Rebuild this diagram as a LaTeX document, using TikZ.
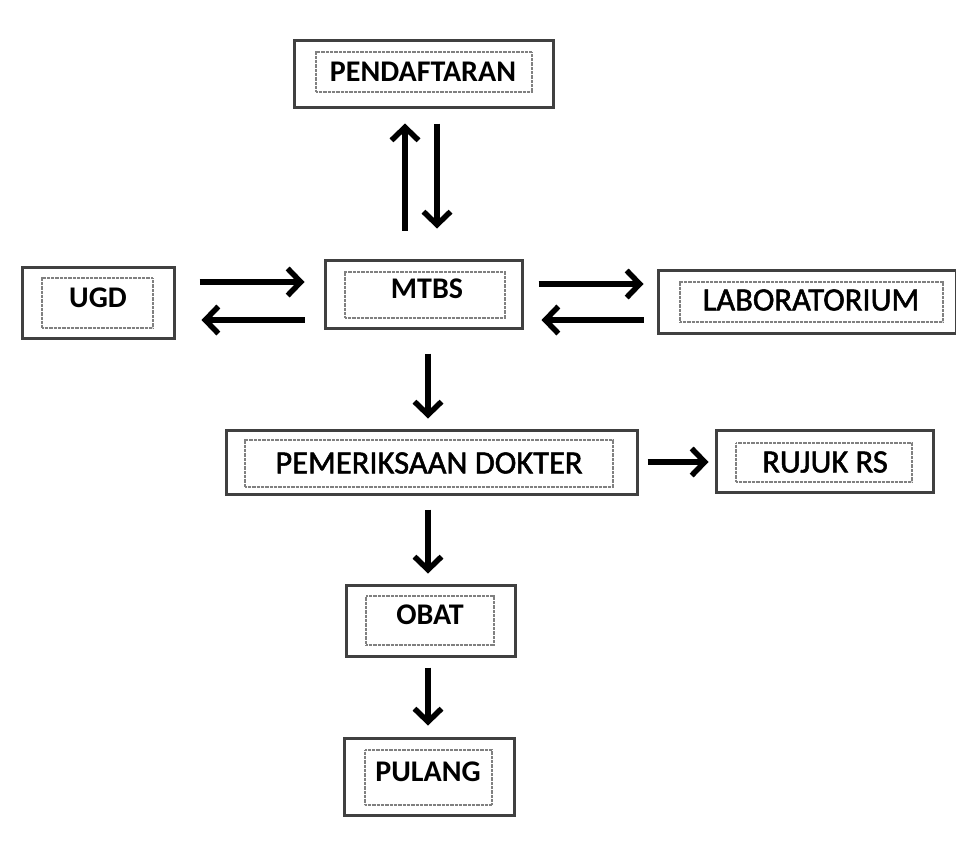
\documentclass[tikz,border=0pt]{standalone}
\usepackage{fontspec}
\setmainfont{Carlito}
\newfontfamily\medfont[FakeBold=1.6]{Carlito}
\usetikzlibrary{arrows.meta,calc}
\begin{document}
\begin{tikzpicture}[x=1pt,y=-1pt,
  outerbox/.style={draw=black!75, line width=3pt, inner sep=0pt, fill=white},
  innerbox/.style={draw=black!50, dash pattern=on 0.8pt off 0.5pt, line width=2.4pt, inner sep=0pt},
  lbl/.style={inner sep=0pt, font=\fontsize{32.5}{38}\selectfont\medfont},
  lblb/.style={inner sep=0pt, font=\fontsize{30}{36}\selectfont\bfseries},
  arr/.style={line width=5.5pt, -{Straight Barb[length=13pt,width=27pt]}}
]
\useasboundingbox[fill=white] (0,0) rectangle (956,862);

% outer boxes
\node[outerbox, minimum width=259pt, minimum height=67pt] (pend) at (423.5,73.5) {};
\node[outerbox, minimum width=197pt, minimum height=68pt] (mtbs) at (423.5,294) {};
\node[outerbox, minimum width=152pt, minimum height=71pt] (ugd) at (98,302.5) {};
\node[outerbox, minimum width=298pt, minimum height=63pt] (lab) at (807,301.5) {};
\node[outerbox, minimum width=411pt, minimum height=64pt] (pem) at (431.5,462) {};
\node[outerbox, minimum width=217pt, minimum height=62pt] (rujuk) at (824.5,461) {};
\node[outerbox, minimum width=169pt, minimum height=71pt] (obat) at (430.5,620.5) {};
\node[outerbox, minimum width=170pt, minimum height=77pt] (pulang) at (429,776.5) {};

% inner boxes
\node[innerbox, minimum width=216pt, minimum height=40pt] (pend-i) at (424,72) {};
\node[innerbox, minimum width=160pt, minimum height=46pt] (mtbs-i) at (425,295) {};
\node[innerbox, minimum width=111pt, minimum height=50pt] (ugd-i) at (97.5,303) {};
\node[innerbox, minimum width=263pt, minimum height=40pt] (lab-i) at (811.5,302) {};
\node[innerbox, minimum width=368pt, minimum height=47pt] (pem-i) at (429,463.5) {};
\node[innerbox, minimum width=176pt, minimum height=39pt] (rujuk-i) at (824,462.5) {};
\node[innerbox, minimum width=128pt, minimum height=49pt] (obat-i) at (430,620.5) {};
\node[innerbox, minimum width=127pt, minimum height=55pt] (pulang-i) at (428.5,777.5) {};

% labels
\node[lblb] (pend-t) at (423,72) {PENDAFTARAN};
\node[lblb] (mtbs-t) at (427,289) {MTBS};
\node[lblb] (ugd-t) at (98,298) {UGD};
\node[lbl] (lab-t) at (811,300) {LABORATORIUM};
\node[lbl] (pem-t) at (429,463) {PEMERIKSAAN DOKTER};
\node[lbl] (rujuk-t) at (825,462) {RUJUK RS};
\node[lblb] (obat-t) at (430,615) {OBAT};
\node[lblb] (pulang-t) at (428,772) {PULANG};

% guide coordinates
\coordinate (colU) at (405,0);
\coordinate (colD) at (437,0);
\coordinate (colM) at (428,0);
\coordinate (rowA) at (0,282);
\coordinate (rowB) at (0,320);
\coordinate (rowC) at (0,284);
\coordinate (rowD) at (0,320);
\coordinate (rowE) at (0,462);

% connectors
\draw[arr, shorten <=28pt, shorten >=15pt] (colU |- mtbs.north) -- (colU |- pend.south);
\draw[arr, shorten <=15pt, shorten >=30pt] (colD |- pend.south) -- (colD |- mtbs.north);
\draw[arr, shorten <=24pt, shorten >=19pt] (ugd.east |- rowA) -- (mtbs.west |- rowA);
\draw[arr, shorten <=19pt, shorten >=26pt] (mtbs.west |- rowB) -- (ugd.east |- rowB);
\draw[arr, shorten <=15pt, shorten >=13pt] (mtbs.east |- rowC) -- (lab.west |- rowC);
\draw[arr, shorten <=13pt, shorten >=18pt] (lab.west |- rowD) -- (mtbs.east |- rowD);
\draw[arr, shorten <=24pt, shorten >=10pt] (colM |- mtbs.south) -- (colM |- pem.north);
\draw[arr, shorten <=9pt, shorten >=6pt] (pem.east |- rowE) -- (rujuk.west |- rowE);
\draw[arr, shorten <=14pt, shorten >=10pt] (colM |- pem.south) -- (colM |- obat.north);
\draw[arr, shorten <=10pt, shorten >=11pt] (colM |- obat.south) -- (colM |- pulang.north);
\end{tikzpicture}
\end{document}
